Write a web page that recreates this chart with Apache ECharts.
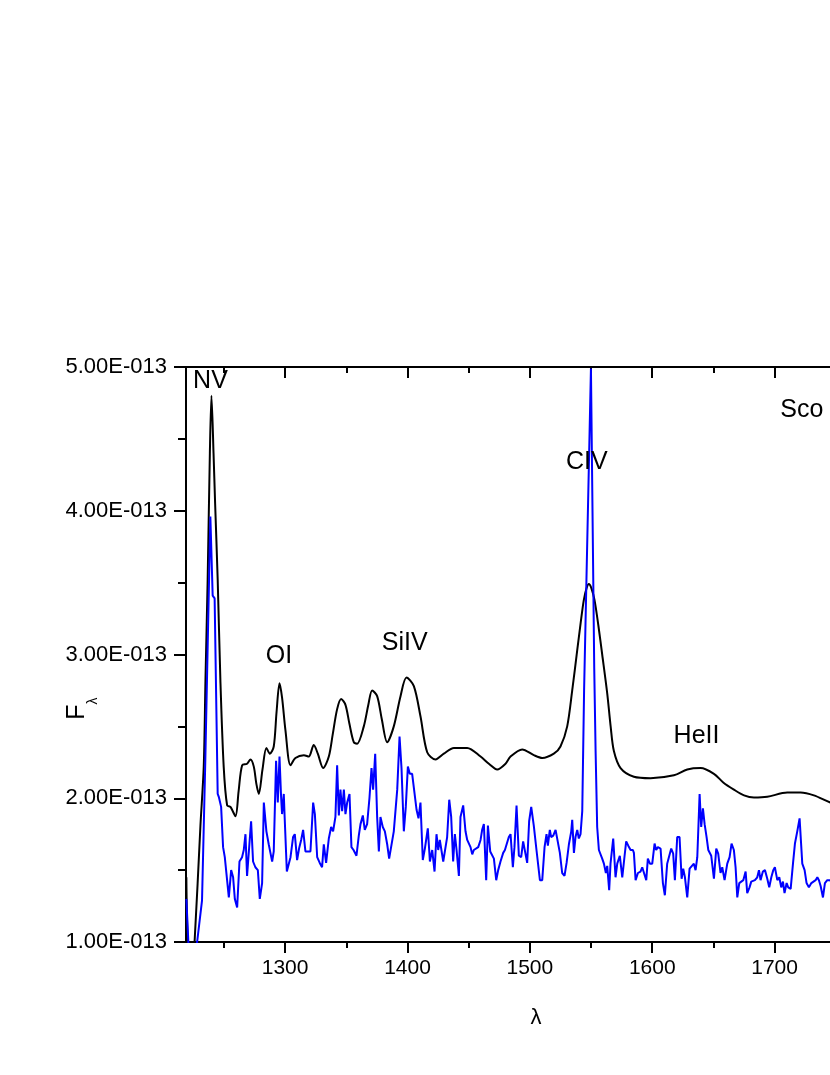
<!DOCTYPE html>
<html><head><meta charset="utf-8">
<script src="https://cdn.jsdelivr.net/npm/echarts@6/dist/echarts.min.js"></script>
<style>html,body{margin:0;padding:0;background:#fff}#c{width:830px;height:1075px}</style>
</head><body><div id="c"></div>
<script>
// ---- data (flux in units of 1E-013) ----
const X_MIN = 1219, X_MAX = 1800;
const majorTicks = [1300, 1400, 1500, 1600, 1700, 1800];
const minorTicks = [1250, 1350, 1450, 1550, 1650, 1750];

const modelLam = [1219.3,1221,1224,1226,1230.8,1233.5,1234.9,1236.7,1238.5,1239.8,1241.5,1242.8,1244.9,1247.1,1249.8,1252.6,1255.3,1259.4,1262,1264.9,1268.9,1271.7,1274.4,1276.5,1278.5,1281.5,1284.7,1287.5,1290.7,1293,1295.4,1297.5,1300.3,1304.4,1308.4,1315.3,1319.3,1323.4,1326.7,1331.1,1335.7,1339,1342.5,1345.8,1349.3,1352.5,1356.1,1358.9,1364.3,1368,1371.1,1375.2,1379,1383.4,1388.8,1394.3,1399.2,1405.2,1410.6,1416.1,1422.9,1429.7,1437.9,1448.8,1459.7,1466.5,1473.3,1480.1,1484.2,1493.7,1503.2,1510.1,1519.6,1525,1530.5,1534.6,1538.7,1541.5,1544.1,1546.3,1548.2,1550.3,1552.8,1556,1559.1,1563.2,1566,1568.6,1574.1,1585,1598.6,1617.7,1628.6,1639.5,1650.4,1658,1666.7,1675,1683.1,1694,1710.3,1721.2,1732.1,1745.8,1752];
const modelF   = [1.45,0.9,0.85,1.0,1.81,2.22,2.82,3.52,4.4,4.8,4.4,4.05,3.52,2.82,2.22,1.95,1.94,1.875,2.05,2.23,2.24,2.27,2.22,2.1,2.03,2.2,2.35,2.31,2.36,2.6,2.8,2.7,2.47,2.23,2.28,2.3,2.29,2.37,2.31,2.21,2.29,2.45,2.62,2.69,2.65,2.52,2.39,2.38,2.5,2.65,2.75,2.71,2.55,2.39,2.5,2.71,2.84,2.78,2.57,2.32,2.27,2.31,2.35,2.35,2.29,2.24,2.2,2.24,2.29,2.34,2.3,2.28,2.31,2.36,2.5,2.75,3.03,3.22,3.38,3.46,3.49,3.46,3.38,3.2,3.0,2.73,2.5,2.33,2.21,2.15,2.14,2.16,2.2,2.21,2.17,2.11,2.06,2.02,2.005,2.01,2.04,2.04,2.02,1.97,1.96];

const obsLam = [1219.3,1222,1225,1228.1,1232.1,1234.8,1238.9,1240.8,1242.4,1244.9,1245.8,1247.7,1249.3,1250.7,1254,1255.9,1257.5,1258.9,1260.8,1262.7,1264.8,1266.2,1267.6,1268.9,1270.8,1272.2,1273.8,1275.7,1277.7,1279.3,1281.2,1282.6,1284.7,1286.6,1288,1289.4,1290.7,1292.6,1294,1295.4,1296.7,1297.5,1298.9,1299.7,1301.4,1303,1304.4,1306.5,1307.9,1309.8,1311.4,1313.1,1314.7,1316.6,1318.8,1320.7,1322.9,1324.3,1326.2,1328.3,1330.2,1331.6,1333.5,1335.7,1337.6,1339.2,1341.1,1342.5,1343.9,1345.2,1346.6,1348,1349.3,1350.7,1352.6,1354.2,1355.9,1358.3,1360.2,1361.6,1363.5,1365.1,1367,1368.9,1370.6,1371.9,1373.6,1375.2,1376.6,1377.9,1379.8,1381.5,1383.4,1385,1386.6,1388.8,1391.6,1393.5,1395.1,1397,1398.6,1400.3,1401.9,1403.8,1405.2,1407.4,1409,1410.6,1412.5,1414.2,1415.5,1416.6,1418.3,1420.2,1422.1,1423.7,1425.1,1426.4,1427.8,1429.2,1430.5,1432.4,1434.1,1435.7,1437.3,1438.7,1440.1,1442,1443.3,1445.5,1447.4,1448.8,1450.4,1451.5,1452.9,1454.2,1455.6,1457.8,1459.7,1461,1462.4,1464.3,1465.7,1467.6,1469.2,1470.6,1472.5,1474.1,1476,1478.2,1479.6,1480.9,1482.8,1484.2,1486.1,1487.4,1489.1,1491,1492.9,1494.5,1495.9,1497.8,1499.4,1501.1,1503.2,1505.4,1506.5,1508.2,1510.1,1512,1513.6,1514.7,1516.3,1517.4,1519.1,1521,1522.3,1524.5,1526.4,1528.3,1530,1531.9,1533.8,1534.6,1536,1537.3,1538.7,1540,1541.4,1542.8,1544.3,1549.9,1552.6,1553.7,1555,1556.4,1559.1,1560.5,1562.1,1563.2,1564.8,1565.9,1568.1,1570,1571.4,1573.5,1575.5,1577.4,1578.7,1580.4,1582.3,1584.2,1585,1586.4,1588.3,1590.4,1591.8,1593.2,1595.1,1596.4,1598.1,1600,1601.9,1603.2,1604.6,1606.8,1608.7,1610.3,1612.2,1613.6,1615.5,1617.1,1618.5,1620.4,1622.3,1624,1625.3,1626.7,1628.6,1630.5,1632.1,1634,1635.4,1636.8,1638.7,1640,1641.4,1642.8,1644.4,1645.8,1648.2,1650.4,1652.3,1653.9,1655.8,1657.2,1659.1,1661.3,1663.2,1664.8,1666.7,1668.1,1669.5,1671.1,1672.7,1674.4,1676.3,1677.6,1679.5,1680.9,1682.5,1683.9,1685.8,1687.2,1688.5,1690.4,1692.1,1694,1695.6,1697.3,1698.9,1700.2,1702.2,1703.8,1705.4,1706.8,1708.1,1709.8,1711.1,1713.1,1715,1716.6,1718.5,1720.4,1721.2,1722.6,1724.5,1726.1,1728,1730,1731.6,1733.5,1734.9,1736.2,1737.6,1739.5,1741.1,1743,1745.2,1748];
const obsF = [1.3,0.8,0.8,1.0,1.29,2.27,3.96,3.41,3.39,2.03,2.01,1.94,1.66,1.59,1.31,1.5,1.45,1.3,1.24,1.56,1.59,1.64,1.75,1.46,1.68,1.84,1.56,1.52,1.5,1.3,1.41,1.97,1.77,1.68,1.62,1.56,1.63,2.26,1.97,2.29,2.01,1.89,2.03,1.85,1.49,1.48,1.59,1.73,1.75,1.57,1.65,1.71,1.78,1.63,1.63,1.63,1.97,1.89,1.59,1.55,1.52,1.68,1.55,1.72,1.8,1.77,1.87,2.23,1.88,2.06,1.91,2.06,1.89,1.97,2.03,1.66,1.64,1.6,1.74,1.82,1.88,1.78,1.82,2.0,2.21,2.06,2.31,1.87,1.63,1.87,1.8,1.77,1.68,1.58,1.59,1.77,2.06,2.43,2.21,1.77,1.94,2.22,2.17,2.17,2.16,1.92,1.86,1.97,1.57,1.65,1.64,1.79,1.56,1.64,1.49,1.75,1.64,1.71,1.7,1.56,1.57,1.73,1.99,1.87,1.56,1.75,1.64,1.46,1.87,1.95,1.77,1.71,1.7,1.66,1.61,1.64,1.65,1.66,1.71,1.78,1.82,1.43,1.81,1.63,1.63,1.58,1.43,1.5,1.56,1.62,1.64,1.63,1.73,1.75,1.52,1.66,1.95,1.6,1.59,1.7,1.71,1.55,1.84,1.94,1.81,1.64,1.64,1.43,1.43,1.66,1.75,1.67,1.78,1.73,1.74,1.78,1.77,1.62,1.48,1.46,1.55,1.68,1.77,1.85,1.62,1.73,1.78,1.72,1.75,1.91,2.75,4.99,2.9,2.33,1.8,1.64,1.58,1.545,1.48,1.53,1.36,1.545,1.72,1.45,1.545,1.6,1.45,1.6,1.7,1.67,1.64,1.64,1.62,1.43,1.48,1.49,1.52,1.52,1.43,1.58,1.545,1.545,1.685,1.64,1.66,1.65,1.41,1.325,1.545,1.59,1.65,1.615,1.43,1.73,1.73,1.44,1.51,1.45,1.31,1.51,1.52,1.545,1.5,1.59,2.03,1.8,1.93,1.82,1.73,1.64,1.6,1.44,1.65,1.615,1.48,1.52,1.43,1.545,1.59,1.685,1.64,1.52,1.31,1.41,1.41,1.43,1.49,1.34,1.38,1.42,1.41,1.43,1.45,1.5,1.43,1.49,1.5,1.44,1.38,1.45,1.5,1.52,1.43,1.45,1.38,1.42,1.34,1.41,1.38,1.37,1.545,1.685,1.77,1.86,1.86,1.545,1.5,1.41,1.38,1.41,1.42,1.43,1.45,1.43,1.39,1.31,1.41,1.43,1.43,1.4];

const annoText = ['NV', 'OI', 'SiIV', 'CIV', 'HeII', 'Sco'];
const annoLam  = [1239.0, 1295.0, 1397.7, 1546.6, 1636.2, 1704.6];
const annoF    = [4.90, 2.99, 3.08, 4.34, 2.43, 4.70];
const annoAlign = ['center','center','center','center','center','left'];

// ---- chart ----
const FONT = 'Liberation Sans';
const chart = echarts.init(document.getElementById('c'));
const blackLine = {color:'#000', width:2};
const gridRect = {left:186, top:367, width:711, height:575, containLabel:false, outerBoundsMode:'none'};
const pairs = (a, b) => a.map((v, i) => [v, b[i]]);

chart.setOption({
  animation: false,
  backgroundColor: '#fff',
  grid: [Object.assign({}, gridRect), Object.assign({}, gridRect)],
  xAxis: [
    {gridIndex:0, type:'value', min:X_MIN, max:X_MAX, position:'bottom',
     axisLine:{show:true, onZero:false, lineStyle:blackLine},
     axisTick:{show:true, inside:false, length:11, customValues:majorTicks, lineStyle:blackLine},
     axisLabel:{show:true, customValues:majorTicks, fontSize:21, fontFamily:FONT, color:'#000', margin:16,
                formatter: v => String(v)},
     splitLine:{show:false}},
    {gridIndex:0, type:'value', min:X_MIN, max:X_MAX, position:'top',
     axisLine:{show:true, onZero:false, lineStyle:blackLine},
     axisTick:{show:true, inside:true, length:11, customValues:majorTicks, lineStyle:blackLine},
     axisLabel:{show:false}, splitLine:{show:false}},
    {gridIndex:1, type:'value', min:X_MIN, max:X_MAX, position:'bottom',
     axisLine:{show:false, onZero:false},
     axisTick:{show:true, inside:false, length:6, customValues:minorTicks, lineStyle:blackLine},
     axisLabel:{show:false}, splitLine:{show:false}},
    {gridIndex:1, type:'value', min:X_MIN, max:X_MAX, position:'top',
     axisLine:{show:false, onZero:false},
     axisTick:{show:true, inside:true, length:6, customValues:minorTicks, lineStyle:blackLine},
     axisLabel:{show:false}, splitLine:{show:false}}
  ],
  yAxis: [
    {gridIndex:0, type:'value', min:1, max:5, interval:1, position:'left',
     axisLine:{show:true, onZero:false, lineStyle:blackLine},
     axisTick:{show:true, inside:false, length:12, lineStyle:blackLine},
     minorTick:{show:true, splitNumber:2, length:8, lineStyle:blackLine},
     axisLabel:{fontSize:22, fontFamily:FONT, color:'#000', margin:19,
                formatter: v => v.toFixed(2) + 'E-013'},
     splitLine:{show:false}, minorSplitLine:{show:false}},
    {gridIndex:1, type:'value', min:1, max:5, show:false}
  ],
  series: [
    {type:'line', xAxisIndex:0, yAxisIndex:0, data:pairs(modelLam, modelF), showSymbol:false, smooth:0.3,
     lineStyle:{color:'#000', width:2}, clip:true, z:2},
    {type:'line', xAxisIndex:0, yAxisIndex:0, data:pairs(obsLam, obsF), showSymbol:false,
     lineStyle:{color:'#0000ff', width:2}, clip:true, z:3}
  ]
});

const g = [];
annoText.forEach((t, i) => {
  const p = chart.convertToPixel({xAxisIndex:0, yAxisIndex:0}, [annoLam[i], annoF[i]]);
  g.push({type:'text', x:p[0], y:p[1], z:10,
    style:{text:t, fill:'#000', font:'25px "' + FONT + '"', textAlign:annoAlign[i], textVerticalAlign:'middle'}});
});
// axis titles
g.push({type:'text', x:77, y:712, rotation:Math.PI/2, z:10,
  style:{text:'F', fill:'#000', font:'25px "' + FONT + '"', textAlign:'center', textVerticalAlign:'middle'}});
g.push({type:'text', x:93, y:701, rotation:Math.PI/2, z:10,
  style:{text:'λ', fill:'#000', font:'14px "' + FONT + '"', textAlign:'center', textVerticalAlign:'middle'}});
g.push({type:'text', x:536, y:1018, z:10,
  style:{text:'λ', fill:'#000', font:'22px "' + FONT + '"', textAlign:'center', textVerticalAlign:'middle'}});
chart.setOption({graphic: g});
</script></body></html>
